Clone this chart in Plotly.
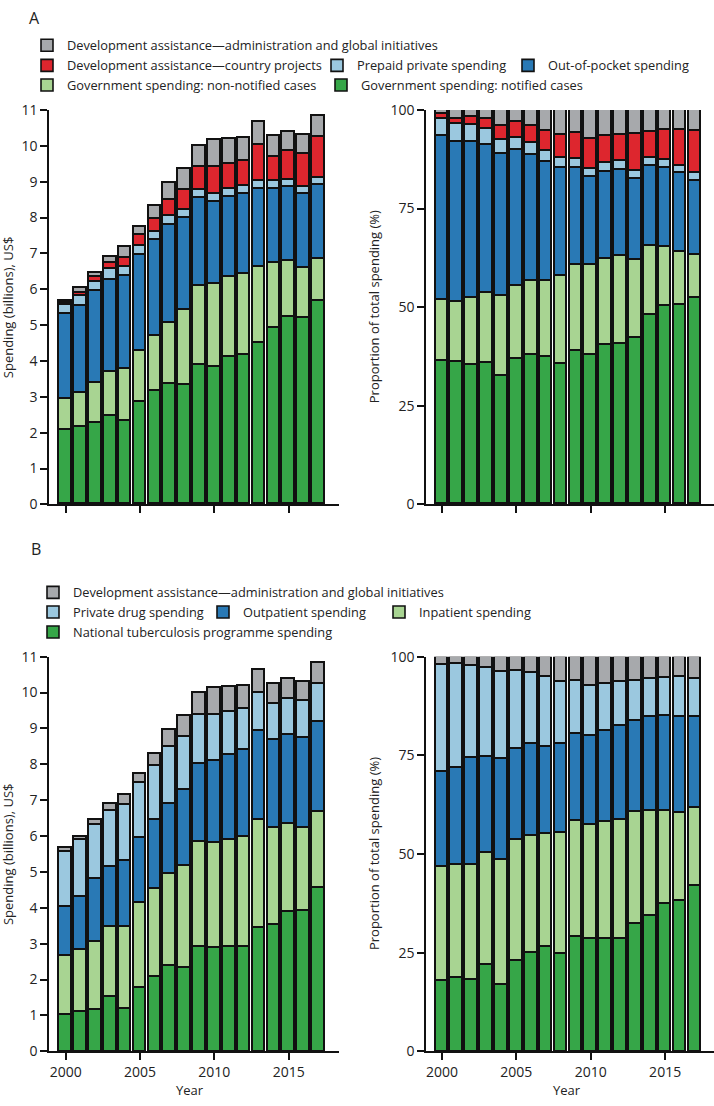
import numpy as np
import plotly.graph_objects as go

years = list(range(2000, 2018))
year_ticks = [2000, 2005, 2010, 2015]
year_tick_labels = ["2000", "2005", "2010", "2015"]

# ---- Panel A: spending by source (US$ billions) ----
a_gov_notified = [2.07, 2.17, 2.28, 2.47, 2.33, 2.86, 3.15, 3.36, 3.33, 3.90, 3.84, 4.11, 4.16, 4.51, 4.93, 5.22, 5.21, 5.68]
a_gov_non_notified = [0.87, 0.93, 1.10, 1.22, 1.46, 1.43, 1.55, 1.71, 2.08, 2.18, 2.32, 2.22, 2.26, 2.10, 1.80, 1.56, 1.39, 1.17]
a_out_of_pocket = [2.36, 2.44, 2.56, 2.58, 2.58, 2.67, 2.67, 2.71, 2.58, 2.46, 2.27, 2.24, 2.23, 2.18, 2.08, 2.08, 2.05, 2.05]
a_prepaid_private = [0.25, 0.27, 0.27, 0.29, 0.25, 0.24, 0.24, 0.26, 0.23, 0.23, 0.22, 0.24, 0.23, 0.22, 0.21, 0.20, 0.19, 0.21]
a_dah_country = [0.07, 0.09, 0.14, 0.17, 0.26, 0.31, 0.36, 0.45, 0.55, 0.64, 0.76, 0.69, 0.69, 1.01, 0.68, 0.80, 0.93, 1.15]
a_dah_admin = [0.06, 0.13, 0.11, 0.16, 0.29, 0.23, 0.34, 0.48, 0.59, 0.59, 0.75, 0.68, 0.64, 0.65, 0.57, 0.53, 0.53, 0.58]

# ---- Panel B: spending by function (US$ billions) ----
b_ntp = [1.01, 1.11, 1.17, 1.52, 1.20, 1.78, 2.08, 2.38, 2.32, 2.91, 2.88, 2.91, 2.91, 3.44, 3.52, 3.89, 3.93, 4.55]
b_inpatient = [1.65, 1.73, 1.88, 1.95, 2.27, 2.37, 2.45, 2.57, 2.86, 2.92, 2.94, 3.00, 3.08, 3.02, 2.72, 2.45, 2.29, 2.13]
b_outpatient = [1.37, 1.46, 1.75, 1.68, 1.83, 1.80, 1.93, 1.96, 2.12, 2.20, 2.27, 2.35, 2.42, 2.47, 2.45, 2.48, 2.51, 2.51]
b_private_drug = [1.53, 1.59, 1.51, 1.55, 1.57, 1.53, 1.51, 1.59, 1.46, 1.35, 1.30, 1.21, 1.15, 1.08, 1.00, 1.01, 1.04, 1.05]
b_dah_admin = [0.12, 0.10, 0.14, 0.19, 0.27, 0.27, 0.33, 0.46, 0.59, 0.61, 0.74, 0.70, 0.64, 0.64, 0.56, 0.55, 0.53, 0.59]

C_GRAY = "#A7A9AC"
C_RED = "#DD262E"
C_LBLUE = "#9BC8DF"
C_BLUE = "#2979B5"
C_LGREEN = "#A8D492"
C_GREEN = "#36A648"

series_a = [
    ("Government spending: notified cases", a_gov_notified, C_GREEN),
    ("Government spending: non-notified cases", a_gov_non_notified, C_LGREEN),
    ("Out-of-pocket spending", a_out_of_pocket, C_BLUE),
    ("Prepaid private spending", a_prepaid_private, C_LBLUE),
    ("Development assistance\u2014country projects", a_dah_country, C_RED),
    ("Development assistance\u2014administration and global initiatives", a_dah_admin, C_GRAY),
]
series_b = [
    ("National tuberculosis programme spending", b_ntp, C_GREEN),
    ("Inpatient spending", b_inpatient, C_LGREEN),
    ("Outpatient spending", b_outpatient, C_BLUE),
    ("Private drug spending", b_private_drug, C_LBLUE),
    ("Development assistance\u2014administration and global initiatives", b_dah_admin, C_GRAY),
]

W, H = 714, 1106
FONT = "Open Sans, Noto Sans, DejaVu Sans, sans-serif"
TXT = "#222222"
EDGE = "#111111"


def px_x(p):
    return p / W


def px_y(p):
    return 1 - p / H


# legend placement (text start x, row centre y) in pixels
legend_pos_a = [(361, 76.5), (67, 76.5), (548, 56.5), (357, 56.5), (67, 56.5), (67, 36)]
legend_pos_b = [(73, 633), (419, 612.7), (243, 612.7), (73, 612.7), (73, 592.7)]
TEXT_OFFSET = 40

fig = go.Figure()
legend_layouts = {}
lid = 0


def add_panel(series, xa_abs, ya_abs, xa_pct, ya_pct, positions):
    global lid
    totals = np.sum([np.array(v, dtype=float) for _, v, _ in series], axis=0)
    for (name, vals, col), (tx, ty) in zip(series, positions):
        lid += 1
        lname = "legend" if lid == 1 else f"legend{lid}"
        legend_layouts[lname] = dict(
            x=px_x(tx - TEXT_OFFSET), y=px_y(ty), xanchor="left", yanchor="middle",
            bgcolor="rgba(0,0,0,0)", borderwidth=0, itemwidth=30,
            font=dict(family=FONT, size=12.8, color=TXT), orientation="h",
        )
        fig.add_trace(go.Bar(
            x=years, y=vals, name=name, marker=dict(color=col, line=dict(color=EDGE, width=1.6)),
            width=0.85, xaxis=xa_abs, yaxis=ya_abs, legend=lname, showlegend=True,
            cliponaxis=False,
        ))
        pct = np.array(vals, dtype=float) / totals * 100
        fig.add_trace(go.Bar(
            x=years, y=pct, name=name, marker=dict(color=col, line=dict(color=EDGE, width=1.6)),
            width=0.85, xaxis=xa_pct, yaxis=ya_pct, showlegend=False, cliponaxis=False,
        ))


add_panel(series_a, "x", "y", "x2", "y2", legend_pos_a)
add_panel(series_b, "x3", "y3", "x4", "y4", legend_pos_b)

LEFT_X = [px_x(49), px_x(339)]
RIGHT_X = [px_x(426), px_x(713.5)]
TOP_Y = [px_y(503), px_y(101.7)]
BOT_Y = [px_y(1059.5), px_y(658)]

axis_common = dict(
    showline=True, linecolor=EDGE, linewidth=1.6, ticks="outside", ticklen=7,
    tickwidth=1.6, tickcolor=EDGE, showgrid=False, zeroline=False,
    tickfont=dict(family=FONT, size=14, color=TXT), fixedrange=True,
)


def xax(domain, rng, anchor, labels):
    d = dict(axis_common)
    d.update(domain=domain, range=rng, anchor=anchor, tickmode="array",
             tickvals=year_ticks, ticktext=year_tick_labels, showticklabels=labels)
    return d


def yax(domain, rng, anchor, tickvals):
    d = dict(axis_common)
    d.update(domain=domain, range=rng, anchor=anchor, tickmode="array",
             tickvals=tickvals, ticktext=[str(t) for t in tickvals])
    return d


abs_ticks = list(range(0, 12))
pct_ticks = [0, 25, 50, 75, 100]

layout = dict(
    width=W, height=H, margin=dict(l=0, r=0, t=0, b=0),
    paper_bgcolor="white", plot_bgcolor="white", barmode="stack", bargap=0,
    font=dict(family=FONT, color=TXT),
    xaxis=xax(LEFT_X, [1998.88, 2018.38], "y", False),
    yaxis=yax(TOP_Y, [0, 11], "x", abs_ticks),
    xaxis2=xax(RIGHT_X, [1998.93, 2018.25], "y2", False),
    yaxis2=yax(TOP_Y, [0, 100], "x2", pct_ticks),
    xaxis3=xax(LEFT_X, [1998.88, 2018.38], "y3", True),
    yaxis3=yax(BOT_Y, [0, 11], "x3", abs_ticks),
    xaxis4=xax(RIGHT_X, [1998.93, 2018.25], "y4", True),
    yaxis4=yax(BOT_Y, [0, 100], "x4", pct_ticks),
)
layout.update(legend_layouts)
fig.update_layout(**layout)

ann_font = dict(family=FONT, size=13, color=TXT)
annotations = [
    dict(text="A", x=px_x(27), y=px_y(8), xanchor="left", yanchor="middle",
         font=dict(family=FONT, size=16, color=TXT)),
    dict(text="B", x=px_x(29), y=px_y(548), xanchor="left", yanchor="middle",
         font=dict(family=FONT, size=16, color=TXT)),
    dict(text="Spending (billions), US$", x=px_x(8), y=px_y(302.4), textangle=-90, font=ann_font),
    dict(text="Proportion of total spending (%)", x=px_x(374), y=px_y(302.4), textangle=-90, font=ann_font),
    dict(text="Spending (billions), US$", x=px_x(8), y=px_y(858.8), textangle=-90, font=ann_font),
    dict(text="Proportion of total spending (%)", x=px_x(374), y=px_y(858.8), textangle=-90, font=ann_font),
    dict(text="Year", x=px_x(190), y=px_y(1099), font=ann_font),
    dict(text="Year", x=px_x(567), y=px_y(1099), font=ann_font),
]
for a in annotations:
    a.update(xref="paper", yref="paper", showarrow=False)
    a.setdefault("xanchor", "center")
    a.setdefault("yanchor", "middle")
fig.update_layout(annotations=annotations)

fig.write_html(
    "out.html",
    config={"displayModeBar": False},
    post_script="document.body.style.margin='0';document.body.style.overflow='hidden';",
)
